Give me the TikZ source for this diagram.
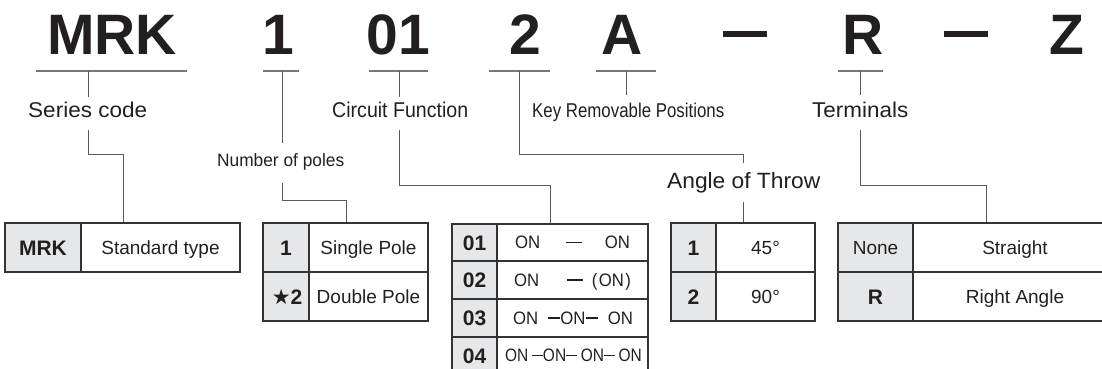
\documentclass[tikz,border=0pt]{standalone}
\usepackage{fontspec}
\setmainfont{Liberation Sans}
\newfontfamily\symfont{DejaVu Sans}
\usepackage{graphicx}
\definecolor{ink}{HTML}{231F20}
\definecolor{cellgray}{HTML}{E6E7E8}
\definecolor{linegray}{HTML}{5A5A5A}
\definecolor{ulgray}{HTML}{777777}
\definecolor{bordercol}{HTML}{333333}
\newcommand{\fsz}[1]{\fontsize{#1}{#1}\selectfont}
\newcommand{\hdl}{\rule[0.33em]{0.92em}{0.07em}}
\newcommand{\hds}{\rule[0.33em]{0.72em}{0.07em}}
\newcommand{\cond}[1]{\scalebox{0.93}[1]{#1}}
\begin{document}
\begin{tikzpicture}[x=1pt,y=-1pt,
  big/.style={anchor=base,inner sep=0,text=ink,font=\fsz{57}\bfseries},
  lbl/.style={anchor=base west,inner sep=0,text=ink},
  conn/.style={draw=linegray,line width=1pt},
  uline/.style={draw=ulgray,line width=1.1pt},
  tbl/.style={draw=bordercol,line width=1.6pt},
  ctext/.style={anchor=center,inner sep=0,text=ink,font=\fsz{19},text height=13.6pt,text depth=0pt},
  ccode/.style={anchor=center,inner sep=0,text=ink,font=\fsz{21}\bfseries,text height=15pt,text depth=0pt},
  ontext/.style={anchor=center,inner sep=0,text=ink,font=\fsz{18},text height=12.9pt,text depth=0pt},
  dashbar/.style={anchor=center,inner sep=0,text=ink},
]
\useasboundingbox (0,0) rectangle (1102,369);
\fill[white] (0,0) rectangle (1102,369);
\clip (0,0) rectangle (1102,369);

% ---- code letters
\node[big] (cMRK) at (112,55) {MRK};
\node[big] (cP)   at (278,55) {1};
\node[big] (cC)   at (398.5,55) {01};
\node[big] (cT)   at (525,55) {2};
\node[big] (cK)   at (622,55) {A};
\node[dashbar] (d1) at (745,34) {\rule{44pt}{6pt}};
\node[big] (cR)   at (863.5,55) {R};
\node[dashbar] (d2) at (966,34) {\rule{44pt}{6pt}};
\node[big] (cZ)   at (1067,55) {Z};

% ---- underlines
\coordinate (uMa) at (36,71);  \coordinate (uMb) at (187,71);
\coordinate (uPa) at (263,71); \coordinate (uPb) at (299,71);
\coordinate (uCa) at (369,71); \coordinate (uCb) at (428,71);
\coordinate (uTa) at (489,71); \coordinate (uTb) at (550,71);
\coordinate (uKa) at (596,71); \coordinate (uKb) at (656,71);
\coordinate (uRa) at (838,71); \coordinate (uRb) at (883,71);
\foreach \a/\b in {uMa/uMb,uPa/uPb,uCa/uCb,uTa/uTb,uKa/uKb,uRa/uRb}
  \draw[uline] (\a) -- (\b);

% ---- labels
\node[lbl] (lSeries) at (28,117)  {\resizebox{119pt}{15.5pt}{Series code}};
\node[lbl] (lCirc)   at (332,117) {\resizebox{136pt}{15.5pt}{Circuit Function}};
\node[lbl] (lPoles)  at (217,166) {\resizebox{127pt}{13pt}{Number of poles}};
\node[lbl] (lKey)    at (532,117) {\resizebox{192pt}{14.5pt}{Key Removable Positions}};
\node[lbl] (lTerm)   at (812,117) {\resizebox{96pt}{15.5pt}{Terminals}};
\node[lbl] (lAngle)  at (667,188) {\resizebox{153pt}{16pt}{Angle of Throw}};

% ---- connector points
\coordinate (m1) at (88,71);   \coordinate (m2) at (88,97);
\coordinate (m3) at (88,130);  \coordinate (tM) at (123,223);
\coordinate (p1) at (282,71);  \coordinate (p2) at (282,143);
\coordinate (p3) at (282,183); \coordinate (tP) at (346,223);
\coordinate (f1) at (399,71);  \coordinate (f2) at (399,97);
\coordinate (f3) at (399,130); \coordinate (tC) at (550,223);
\coordinate (a1) at (519,71);  \coordinate (a2) at (743,163);
\coordinate (a3) at (743,202); \coordinate (tA) at (743,223);
\coordinate (k1) at (626,71);  \coordinate (k2) at (626,95);
\coordinate (r1) at (860,71);  \coordinate (r2) at (860,95);
\coordinate (r3) at (860,130); \coordinate (tR) at (986,223);

\draw[conn] (m1) -- (m2);
\draw[conn] (m3) -- (88,154) -| (tM);
\draw[conn] (p1) -- (p2);
\draw[conn] (p3) -- (282,200) -| (tP);
\draw[conn] (f1) -- (f2);
\draw[conn] (f3) -- (399,185) -| (tC);
\draw[conn] (a1) -- (519,154) -| (a2);
\draw[conn] (a3) -- (tA);
\draw[conn] (k1) -- (k2);
\draw[conn] (r1) -- (r2);
\draw[conn] (r3) -- (860,185) -| (tR);

% ---- MRK table
\fill[cellgray] (5,223) rectangle (81,272);
\draw[tbl] (5,223) rectangle (240,272);
\draw[tbl] (81,223) -- (81,272);
\node[ccode] (tMRK) at (43,247.5) {MRK};
\node[ctext] (tStd) at (160.5,247.5) {Standard type};

% ---- poles table
\fill[cellgray] (263,223) rectangle (309,321);
\draw[tbl] (263,223) rectangle (428,321);
\draw[tbl] (309,223) -- (309,321);
\draw[tbl] (263,272) -- (428,272);
\node[ccode] (tP1) at (286,247.5) {1};
\node[ccode] (tP2) at (287,296.5) {{\symfont ★}2};
\node[ctext] (tSP) at (368.5,247.5) {Single Pole};
\node[ctext] (tDP) at (368.5,296.5) {Double Pole};

% ---- circuit table
\fill[cellgray] (452,224) rectangle (497,376);
\draw[tbl] (452,224) rectangle (648,376);
\draw[tbl] (497,224) -- (497,376);
\foreach \yy in {261,299,337} \draw[tbl] (452,\yy) -- (648,\yy);
\node[ccode] (c01) at (474.5,242.5) {01};
\node[ccode] (c02) at (474.5,280) {02};
\node[ccode] (c03) at (474.5,318) {03};
\node[ccode] (c04) at (474.5,355.5) {04};
\node[ontext] (o1) at (572.5,242.5) {\cond{ON\hspace{28pt}\hdl\hspace{25pt}ON}};
\node[ontext] (o2) at (572.5,280) {\cond{ON\hspace{30pt}\hdl\hspace{10pt}(\kern1.5pt ON\kern1.5pt)}};
\node[ontext] (o3) at (573,318) {\cond{\makebox[129pt]{ON\hfill\hds ON\hds\hfill ON}}};
\node[ontext] (o4) at (573.5,355.5) {\scalebox{0.86}[1]{\makebox[159pt]{ON\hfill\hds ON\hds\hfill ON\hds\hfill ON}}};

% ---- angle table
\fill[cellgray] (671,223) rectangle (716,321);
\draw[tbl] (671,223) rectangle (815,321);
\draw[tbl] (716,223) -- (716,321);
\draw[tbl] (671,272) -- (815,272);
\node[ccode] (g1) at (693.5,247.5) {1};
\node[ccode] (g2) at (693.5,296.5) {2};
\node[ctext] (g45) at (765.5,247.5) {45°};
\node[ctext] (g90) at (765.5,296.5) {90°};

% ---- terminals table
\fill[cellgray] (838,223) rectangle (913,321);
\draw[tbl] (838,223) rectangle (1117,321);
\draw[tbl] (913,223) -- (913,321);
\draw[tbl] (838,272) -- (1117,272);
\node[ctext] (tNone) at (875.5,247.5) {None};
\node[ccode] (tR2) at (875.5,296.5) {R};
\node[ctext] (tStr) at (1015,247.5) {Straight};
\node[ctext] (tRA) at (1015,296.5) {Right Angle};
\end{tikzpicture}
\end{document}
